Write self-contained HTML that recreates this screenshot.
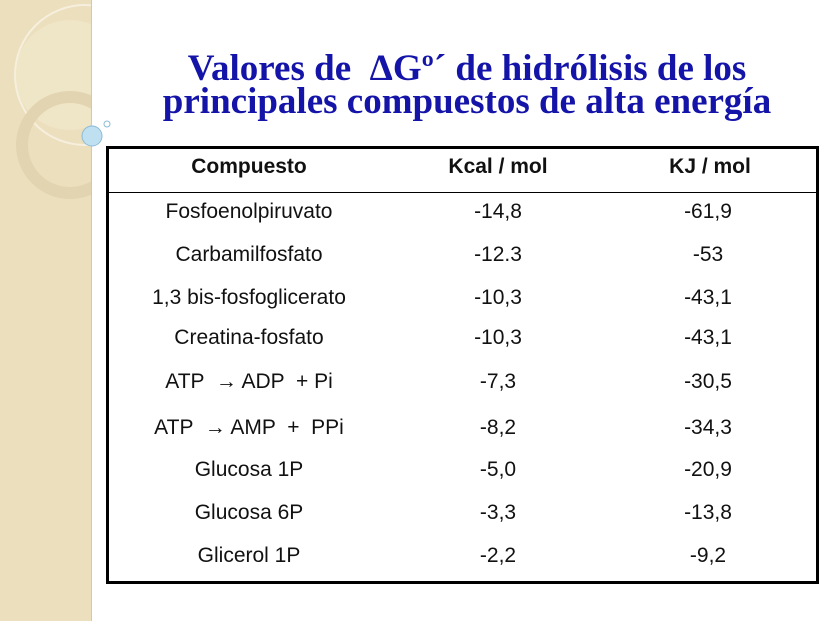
<!DOCTYPE html>
<html><head><meta charset="utf-8"><style>
body{margin:0;width:828px;height:621px;background:#fff;position:relative;overflow:hidden;font-family:"Liberation Sans","DejaVu Sans",sans-serif}
.strip{position:absolute;left:0;top:0;width:91px;height:621px;background:#ecdfbd;border-right:1px solid #d8c9a3}
.title{position:absolute;left:90px;width:754px;text-align:center;font-family:"Liberation Serif",serif;font-weight:bold;color:#1414a8;font-size:37px;line-height:34px}
.tbl{position:absolute;left:106px;top:146px;width:707px;height:432px;border:3px solid #000}
.hsep{position:absolute;left:0;right:0;top:43px;border-top:1.5px solid #000}
.c{position:absolute;transform:translate(-50%,-50%);font-size:21px;color:#111;white-space:nowrap}
.h{font-weight:bold;font-size:21px}
</style></head><body>
<div class="strip"></div>
<svg style="position:absolute;left:0;top:0" width="91" height="260">
<circle cx="70" cy="75" r="55" fill="#f1e7cc" opacity="0.7"/>
<circle cx="85" cy="75" r="70" fill="none" stroke="#f6efdd" stroke-width="2"/>
<circle cx="70" cy="145" r="48" fill="none" stroke="#e2d4b0" stroke-width="12"/>
</svg>
<svg style="position:absolute;left:0;top:0" width="120" height="260">
<circle cx="92" cy="136" r="10" fill="#bfe0f0" stroke="#8cbcd6" stroke-width="1"/>
<circle cx="107" cy="124" r="3" fill="#fff" stroke="#8cbcd6" stroke-width="1"/>
</svg>
<div class="title" style="top:52px">Valores de &nbsp;ΔGº´ de hidrólisis de los</div>
<div class="title" style="top:85px">principales compuestos de alta energía</div>
<div class="tbl"><div class="hsep"></div></div>
<div class="c h" style="left:249px;top:167px">Compuesto</div>
<div class="c h" style="left:498px;top:167px">Kcal / mol</div>
<div class="c h" style="left:710px;top:167px">KJ / mol</div>

<div class="c" style="left:249px;top:212px">Fosfoenolpiruvato</div><div class="c" style="left:498px;top:212px">-14,8</div><div class="c" style="left:708px;top:212px">-61,9</div>
<div class="c" style="left:249px;top:255px">Carbamilfosfato</div><div class="c" style="left:498px;top:255px">-12.3</div><div class="c" style="left:708px;top:255px">-53</div>
<div class="c" style="left:249px;top:298px">1,3 bis-fosfoglicerato</div><div class="c" style="left:498px;top:298px">-10,3</div><div class="c" style="left:708px;top:298px">-43,1</div>
<div class="c" style="left:249px;top:338px">Creatina-fosfato</div><div class="c" style="left:498px;top:338px">-10,3</div><div class="c" style="left:708px;top:338px">-43,1</div>
<div class="c" style="left:249px;top:382px">ATP &nbsp;→ ADP &nbsp;+ Pi</div><div class="c" style="left:498px;top:382px">-7,3</div><div class="c" style="left:708px;top:382px">-30,5</div>
<div class="c" style="left:249px;top:428px">ATP &nbsp;→ AMP &nbsp;+ &nbsp;PPi</div><div class="c" style="left:498px;top:428px">-8,2</div><div class="c" style="left:708px;top:428px">-34,3</div>
<div class="c" style="left:249px;top:470px">Glucosa 1P</div><div class="c" style="left:498px;top:470px">-5,0</div><div class="c" style="left:708px;top:470px">-20,9</div>
<div class="c" style="left:249px;top:513px">Glucosa 6P</div><div class="c" style="left:498px;top:513px">-3,3</div><div class="c" style="left:708px;top:513px">-13,8</div>
<div class="c" style="left:249px;top:556px">Glicerol 1P</div><div class="c" style="left:498px;top:556px">-2,2</div><div class="c" style="left:708px;top:556px">-9,2</div>
</body></html>
